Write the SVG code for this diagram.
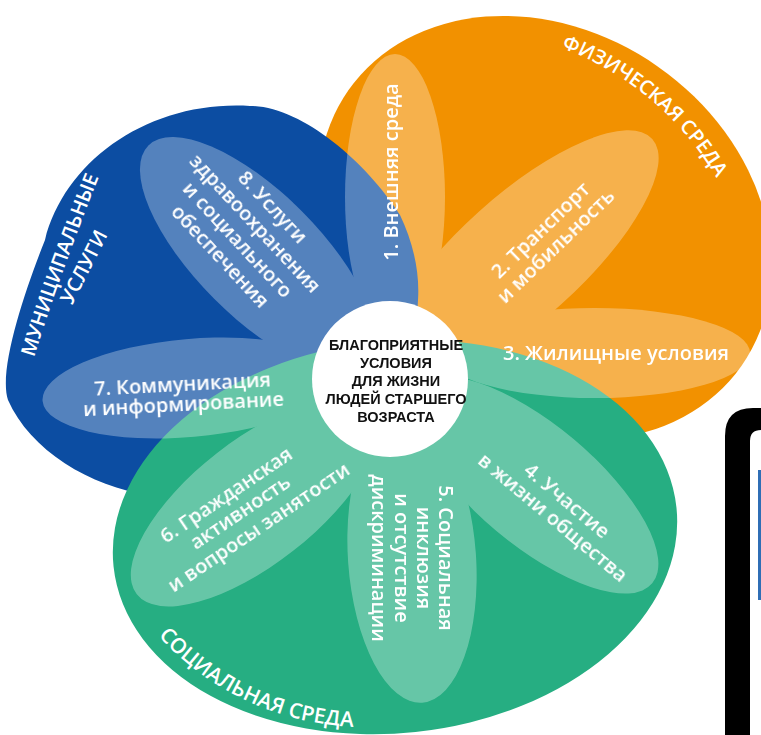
<svg xmlns="http://www.w3.org/2000/svg" width="761" height="735" viewBox="0 0 761 735">
<defs>
<style>
.lbl{font-family:"Open Sans","Noto Sans","DejaVu Sans",sans-serif;font-weight:600;fill:#fff;}
.pt{font-size:20px;}
.big{font-size:20px;}
.soc{font-size:21px;}
.ctr{font-family:"Liberation Sans","Arial","DejaVu Sans",sans-serif;font-weight:700;font-size:14.5px;fill:#111;text-anchor:middle;}
.mid{text-anchor:middle;}
.petal{fill:#fff;}
</style>
<path id="arcPhys" d="M 511.4 34.5 A 296 296 0 0 1 738.2 224.8" fill="none"/>
<path id="arcMun1" d="M 24 390 Q 59 272 112 145" fill="none"/>
<path id="arcMun2" d="M 52 345 Q 90 270 128 195" fill="none"/>
<path id="arcSoc" d="M 135.6 607.6 A 280 280 0 0 0 389.4 725.9" fill="none"/>
</defs>
<rect width="761" height="735" fill="#fff"/>

<g id="physical-environment">
<ellipse cx="545" cy="228" rx="240" ry="197" transform="rotate(35 545 228)" fill="#F29100"/>
<text class="lbl big"><textPath href="#arcPhys" startOffset="50%" text-anchor="middle">ФИЗИЧЕСКАЯ СРЕДА</textPath></text>
</g>

<g id="municipal-services">
<path d="M 250 106 C 300 106 365 160 400 215 C 412 240 420 270 418 300 C 415 400 300 480 150 495 C 90 487 30 450 8 400 C -2 370 25 290 45 240 C 65 160 150 100 250 106 Z" fill="#0C4DA2"/>
<text class="lbl big"><textPath href="#arcMun1" startOffset="50%" text-anchor="middle">МУНИЦИПАЛЬНЫЕ</textPath></text>
<text class="lbl big"><textPath href="#arcMun2" startOffset="50%" text-anchor="middle">УСЛУГИ</textPath></text>
</g>

<g id="social-environment">
<ellipse cx="395" cy="537" rx="283" ry="196" transform="rotate(-6 395 537)" fill="#26AE82"/>
<text class="lbl soc"><textPath href="#arcSoc" startOffset="50%" text-anchor="middle">СОЦИАЛЬНАЯ СРЕДА</textPath></text>
</g>

<g id="petals" opacity="0.3">
<ellipse id="petal-1" class="petal" cx="395" cy="197" rx="50" ry="143"/>
<ellipse id="petal-2" class="petal" cx="520" cy="258" rx="178" ry="62" transform="rotate(-42 520 258)"/>
<ellipse id="petal-3" class="petal" cx="595" cy="353" rx="155" ry="45"/>
<ellipse id="petal-4" class="petal" cx="535" cy="485" rx="153" ry="60" transform="rotate(40 535 485)"/>
<ellipse id="petal-5" class="petal" cx="412" cy="558" rx="64" ry="145" transform="rotate(-4 412 558)"/>
<ellipse id="petal-6" class="petal" cx="255" cy="502" rx="150" ry="62" transform="rotate(-38 255 502)"/>
<ellipse id="petal-7" class="petal" cx="190" cy="388" rx="148" ry="49" transform="rotate(-5 190 388)"/>
<ellipse id="petal-8" class="petal" cx="258" cy="255" rx="155" ry="62" transform="rotate(45 258 255)"/>
</g>

<g id="node-1" transform="translate(398 172) rotate(-90)">
<text class="lbl pt mid" x="0" y="0">1. Внешняя среда</text>
</g>
<g id="node-2" transform="translate(548 238) rotate(-44)">
<text class="lbl pt mid" x="0" y="-4">2. Транспорт</text>
<text class="lbl pt mid" x="0" y="18">и мобильность</text>
</g>
<g id="node-3">
<text class="lbl pt mid" x="616" y="360">3. Жилищные условия</text>
</g>
<g id="node-4" transform="translate(560 509) rotate(40)">
<text class="lbl pt mid" x="0" y="-4">4. Участие</text>
<text class="lbl pt mid" x="0" y="18">в жизни общества</text>
</g>
<g id="node-5" transform="translate(413 558) rotate(90)">
<text class="lbl pt mid" x="0" y="-26.5">5. Социальная</text>
<text class="lbl pt mid" x="0" y="-4.5">инклюзия</text>
<text class="lbl pt mid" x="0" y="17.5">и отсутствие</text>
<text class="lbl pt mid" x="0" y="40.5">дискриминации</text>
</g>
<g id="node-6" transform="translate(240 512) rotate(-34)">
<text class="lbl pt mid" x="-2" y="-15.5">6. Гражданская</text>
<text class="lbl pt mid" x="0" y="7">активность</text>
<text class="lbl pt mid" x="7" y="29.5">и вопросы занятости</text>
</g>
<g id="node-7" transform="translate(183 394) rotate(-3)">
<text class="lbl pt mid" x="0" y="-3">7. Коммуникация</text>
<text class="lbl pt mid" x="0" y="17">и информирование</text>
</g>
<g id="node-8" transform="translate(246.5 231.5) rotate(47)">
<text class="lbl pt mid" x="0" y="-28.7">8. Услуги</text>
<text class="lbl pt mid" x="0" y="-4.9">здравоохранения</text>
<text class="lbl pt mid" x="0" y="18.9">и социального</text>
<text class="lbl pt mid" x="0" y="42.7">обеспечения</text>
</g>

<g id="center">
<circle cx="390" cy="379" r="78" fill="#fff"/>
<text class="ctr" x="396" y="350">БЛАГОПРИЯТНЫЕ</text>
<text class="ctr" x="396" y="368">УСЛОВИЯ</text>
<text class="ctr" x="396" y="386">ДЛЯ ЖИЗНИ</text>
<text class="ctr" x="396" y="404">ЛЮДЕЙ СТАРШЕГО</text>
<text class="ctr" x="396" y="422">ВОЗРАСТА</text>
</g>

<g id="frame">
<path d="M 725 735 L 725 436 Q 725 408 753 408 L 761 408 L 761 430 Q 750 430 750 441 L 750 735 Z" fill="#000"/>
<rect x="758" y="470" width="3" height="130" fill="#2F6EB5"/>
</g>
</svg>
